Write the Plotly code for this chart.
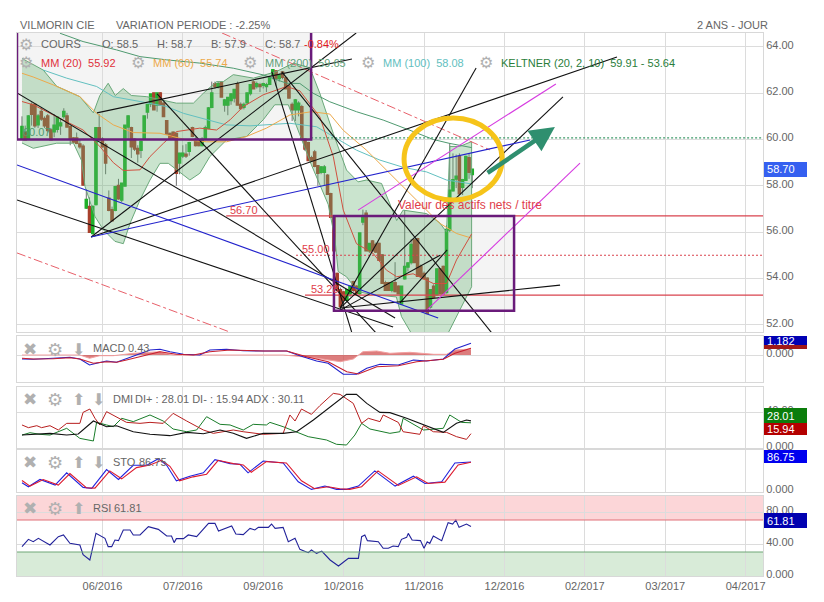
import plotly.graph_objects as go

W, H = 824, 602
L_PX, R_PX = 17, 763

# ---------- x axis (trading sessions) ----------
tick_sessions = [25, 50, 75, 100, 125, 150, 175, 200, 225]
tick_labels = ["06/2016", "07/2016", "09/2016", "10/2016", "11/2016", "12/2016", "02/2017", "03/2017", "04/2017"]
x_range = [-1.55, 230.4]

# ---------- candles ----------
opens = [60.05,60.3,60.05,61.5,61.5,60.65,61.2,60.9,61.0,60.4,60.35,60.45,60.6,61.0,61.0,60.55,60.05,60.05,59.8,59.7,
 57.05,57.1,55.95,57.2,60.5,60.0,59.75,57.45,56.95,56.95,58.0,57.4,58.0,60.55,60.5,60.0,59.6,59.55,60.05,61.2,
 61.55,62.0,61.5,62.0,61.55,60.8,60.25,60.3,60.25,59.0,59.3,59.35,59.5,60.5,60.0,59.9,59.75,60.05,60.5,61.4,
 62.4,62.3,62.45,61.5,61.5,61.7,61.8,62.4,61.5,61.4,61.6,62.0,62.47,62.3,62.35,62.35,62.3,62.4,62.8,62.95,
 62.65,62.9,62.65,62.3,61.5,61.3,61.3,61.4,60.0,59.85,59.2,59.45,58.85,58.6,58.6,58.45,57.65,56.65,54.2,53.5,
 53.4,53.07,53.35,53.85,53.65,53.36,56.45,56.8,55.2,55.6,55.45,55.5,55.0,53.8,53.8,53.5,53.8,53.65,52.9,54.0,
 54.5,54.7,55.65,55.7,54.5,54.2,54.0,52.78,53.65,53.3,54.4,54.5,53.4,56.1,57.8,58.3,59.25,57.95,58.25,59.2,58.5]
highs = [61.0,60.6,61.05,61.6,61.55,61.1,61.4,61.0,61.1,60.5,61.1,60.95,60.9,61.35,61.15,60.6,60.1,60.3,60.0,59.8,
 57.85,57.5,57.15,60.5,61.1,60.1,59.85,57.8,57.1,58.0,58.3,58.1,60.6,61.05,60.55,60.05,59.75,59.95,61.0,61.5,
 61.95,62.0,62.0,62.05,61.6,60.8,60.3,60.35,60.3,59.4,59.75,59.8,59.9,60.55,60.1,60.0,60.1,60.6,61.4,62.5,
 62.5,62.5,62.5,61.75,61.8,62.0,62.15,62.5,61.6,61.6,62.0,62.35,62.55,62.5,62.45,62.45,62.45,62.7,63.0,63.0,
 62.85,62.95,62.75,62.35,61.6,61.75,61.65,61.5,60.05,59.9,59.3,59.55,58.9,58.85,58.9,58.5,57.7,56.7,54.25,53.6,
 53.45,53.55,53.65,53.9,53.7,55.95,56.97,56.95,55.5,55.65,55.55,55.55,55.05,53.9,53.85,53.8,54.7,53.7,53.65,56.95,
 54.7,55.7,55.7,55.75,54.6,54.3,54.05,53.5,53.75,54.4,54.45,54.55,56.3,59.85,59.4,59.35,59.4,58.3,59.3,59.4,58.7]
lows = [60.0,60.0,60.0,60.6,60.5,60.5,60.8,60.5,60.3,60.0,60.1,60.3,60.2,60.9,60.55,59.75,59.85,59.8,59.6,58.0,
 57.0,56.0,55.9,57.15,60.0,59.65,58.5,56.9,56.5,56.9,57.4,57.3,58.0,60.0,59.2,59.5,59.0,59.2,60.0,60.9,
 61.4,61.3,61.2,61.5,61.0,60.25,60.05,60.0,58.0,58.5,59.2,59.2,59.3,60.1,59.7,59.7,59.7,60.0,60.45,61.35,
 62.2,62.2,61.85,61.2,61.05,61.5,61.6,61.5,61.3,61.3,61.5,61.9,62.2,62.2,62.05,62.2,62.05,62.35,62.6,62.3,
 62.5,62.6,62.2,61.8,60.8,60.8,61.0,60.05,59.5,59.1,59.05,58.8,58.0,58.5,58.0,57.65,56.65,55.2,53.45,52.6,
 52.9,53.0,53.2,53.4,53.3,53.3,56.3,55.2,55.1,55.2,55.1,54.8,53.8,53.5,53.5,53.4,53.4,53.35,52.85,53.95,
 54.3,54.6,54.7,54.1,54.05,54.0,52.5,52.7,53.2,53.25,53.35,53.35,53.35,56.0,57.75,57.9,57.6,57.6,58.2,58.3,57.9]
closes = [60.55,60.0,61.0,61.1,60.6,61.0,60.9,60.6,60.4,60.0,60.6,60.95,60.7,61.2,60.55,60.05,59.9,59.85,59.7,58.05,
 57.4,56.0,57.1,60.5,60.0,59.7,59.0,56.95,56.5,57.95,57.45,58.1,60.6,61.0,59.7,59.6,59.4,59.9,61.0,61.5,
 61.95,61.3,62.0,61.5,61.0,60.25,60.05,60.05,58.55,59.4,59.4,59.3,59.85,60.15,59.75,59.75,60.0,60.5,61.35,62.0,
 62.3,62.4,61.85,61.7,61.8,61.95,62.15,61.5,61.35,61.5,62.0,62.35,62.2,62.4,62.3,62.4,62.35,62.65,63.0,62.65,
 62.75,62.7,62.2,61.8,61.3,61.7,61.55,60.05,59.6,59.1,59.1,58.85,58.55,58.8,58.8,57.65,56.65,55.2,53.5,52.8,
 53.07,53.5,53.65,53.5,53.36,55.95,56.67,55.2,55.5,55.2,55.15,54.8,53.8,53.5,53.5,53.8,53.45,53.35,53.65,54.5,
 54.65,55.45,54.7,54.1,54.1,54.0,52.5,53.5,53.2,54.4,53.35,53.35,56.1,57.8,58.25,58.4,57.67,58.25,59.25,58.6,58.7]
sessions = list(range(len(closes)))

# ---------- Keltner bands ----------
kelt_up_x = [0,6.6,10.8,18,22.2,24.2,26.8,29,31.5,34,38.8,44,48,53.3,56.4,60.5,62.6,65.7,72,79,84.4,89.5,92.6,96.8,100.9,104.5,107.1,111.8,113.9,116.5,118.5,125.8,129.9,132,132.5,133,136.1,139.8]
kelt_up_y = [63.5,63.0,62.3,61.85,61.15,61.9,62.43,61.9,62.2,61.9,61.85,61.7,61.57,61.57,62.0,62.5,62.5,62.8,62.65,62.93,63.3,63.1,62.0,60.26,58.68,58.17,58.25,58.1,57.38,56.5,56.95,56.8,56.4,56.0,57.67,59.7,59.7,59.91]
kelt_lo_x = [0,3.5,10.8,16,18.5,19.6,22.7,25.3,28.9,31.5,33.6,36.7,39.8,42.9,45.5,48,52.2,55.3,58.4,63.6,69.8,75,78.6,82.8,84.9,86.4,90,95.2,97.3,98.3,100.9,104.5,110.2,116.4,118,121.6,132,135,139.8]
kelt_lo_y = [59.85,59.62,59.84,59.84,59.1,57.97,56.67,56.1,55.6,55.5,56.38,57.39,58.25,58.97,58.97,58.69,58.25,58.54,59.26,59.98,60.13,60.85,61.5,61.5,60.77,60.2,58.9,57.2,55.73,54.3,54.07,53.42,53.28,53.2,52.35,51.5,51.5,52.35,53.64]

# ---------- moving averages ----------
mm200_x = [11.8,19,29.4,36.7,45,55.3,65.7,75,82.3,86.4,90.5,95.7,104,112.3,120.6,127.9,133,139.8]
mm200_y = [64.59,64.23,63.87,63.58,63.44,63.3,63.08,62.79,62.43,62.42,62.0,61.63,61.2,60.84,60.4,60.0,59.83,59.65]
mm100_x = [6.6,13.9,23.2,28.4,36.7,45,50.2,57.4,63.6,70.9,76,83.3,91.6,98.8,104,111.3,118.5,125.8,132,139.8]
mm100_y = [63.0,62.65,62.29,61.85,61.64,61.42,61.13,60.85,60.63,60.59,60.63,60.7,60.55,59.97,59.54,59.11,58.8,58.6,58.25,58.08]
mm60_x = [0,3.5,9.7,18,23.2,28.4,34.6,42.9,51.2,57.4,63.6,69.8,76,83.3,90,95.7,99.9,107.1,113.3,121.6,129.9,135.1,139.8]
mm60_y = [62.86,62.7,62.36,61.85,61.13,60.63,60.3,60.27,59.98,59.9,59.9,60.13,60.49,61.06,61.2,61.1,60.4,59.54,58.68,57.53,56.38,55.94,55.74]
mm20_x = [0,3.5,8.7,14.9,19,24.2,28.4,31.5,36.7,39.8,44,48,55.3,60.5,64.7,68.8,75,82.3,86.4,92.6,96.8,99.9,104,109.2,113.3,116.5,121.6,127.9,132,135.1,139.8]
mm20_y = [61.64,61.5,61.13,60.7,60.41,59.7,59.0,58.66,58.69,59.26,59.84,60.34,60.49,60.41,60.85,61.42,61.93,62.29,62.1,60.98,59.26,56.95,55.5,55.08,54.36,54.07,54.2,53.78,53.78,54.8,55.92]

# ---------- drawn trend lines: [session, session], [price, price] ----------
black_lines = [
 ([-1.55,116],[62.01,52.29]), ([-1.55,115.4],[57.39,51.9]), ([42,110.7],[61.97,51.55]),
 ([80.8,146.1],[62.92,51.64]), ([77.7,102.6],[62.92,51.64]), ([21.5,103.9],[55.79,64.6]),
 ([21.5,185],[55.79,63.56]), ([23.3,102.6],[61.15,63.48]), ([98.9,168.2],[52.72,61.84]),
 ([98.9,141.2],[52.72,63.09]), ([98.9,130],[52.63,55.0]), ([117.5,132.2],[52.94,55.23]),
 ([98.9,167.3],[52.72,53.71]),
]
blue_lines = [([21.5,158],[55.79,59.98]), ([-1.55,129.4],[58.9,52.29])]
magenta_lines = [([104.5,166],[56.95,62.4]), ([125.3,173.5],[52.55,58.98])]
red_dash_lines = [([62.2,145.5],[64.6,59.55]), ([-1.55,64.7],[55.1,51.68])]
level_values = [56.70, 55.00, 53.28]
level_starts = [63.5, 85.2, 88]
level_dash = ["solid", "2px,2px", "solid"]
dotted_level = 60.07

rect1_x, rect1_y = [-1.55, 89.9], [60.0, 64.7]
rect2_x, rect2_y = [97, 153], [52.6, 56.7]
ellipse_x, ellipse_y = [118.8, 149.3], [57.39, 60.93]
arrow_from, arrow_to = (144.3, 58.51), (165.7, 60.54)

# ---------- MACD ----------
macd_x = [0,3.5,9.7,14.9,18,21,23.2,26.3,29.4,32.5,35.6,39.8,42.9,46,50.2,55.3,58.4,63.6,68.8,75,82.3,86.4,91.6,95.2,99.9,104,107.2,111.3,117,121.7,125.8,131,134.6,139.6]
macd_y = [-.4,-.43,-.33,-.23,-.4,-1,-.83,-.6,-.73,-.33,0,.5,.57,.33,.07,0,.5,.57,.43,.4,.4,-.07,-.6,-.83,-1.93,-1.93,-1.33,-.93,-1,-.5,-.6,-.4,.6,1.18]
sig_x = [0,3.5,9.7,14.9,18,22.2,26.3,29.4,32.5,36.7,42.9,48,53.3,58.4,64.7,75,82.3,88.5,95.2,101,104.6,110.3,117,122.7,131,134.6,139.6]
sig_y = [-.33,-.4,-.37,-.27,-.4,-.83,-.67,-.73,-.5,-.17,.33,.07,0,.33,.5,.4,.4,-.17,-.67,-1.67,-1.9,-1.17,-1.07,-.67,-.43,.17,.67]
hist_x = [0,18,21,24.2,28.4,34.6,42.9,47,57.4,65.7,81.2,90.6,99,103,106,110.3,114.4,120.6,128,132,134.6,139.6]
hist_y = [0,0,-.33,-.07,-.07,.17,.33,0,0,0,0,-.27,-.67,-.4,.33,.4,.17,.27,.07,.07,.5,.6]

# ---------- DMI ----------
dip_x = [0,2.5,5.6,8.7,13.9,18,22.2,23.2,26.3,28.4,31,34.6,39.8,43.9,47,51.2,54.3,57.4,61.6,64.7,68.8,71.9,76,77.1,81.2,84.9,89,94.7,97.8,100.9,103.5,105.6,108.2,114.4,117.5,118.5,124.8,131,133,136.7,139.6]
dip_y = [14.4,17,15.2,14.4,21.9,10.7,7.8,28.5,25.6,23.7,33,29.3,36.7,30,21.1,18.1,20,34.8,26.3,25.6,20,26.3,25.6,28.5,23.7,18.1,12.6,8.9,4.1,3.3,14.4,27.4,21.1,16.3,18.1,33,20,21.9,36.7,28.5,28.01]
dim_x = [0,2,4.6,6.1,8.7,11.3,13.9,18,19,21.1,22.7,24.2,26.3,29.4,32.5,36.7,39.8,43.9,47,51.2,56.4,59.5,65.7,68.8,75,81.2,83.3,84.9,86.9,90,92.6,96.8,98.9,103,105.6,107.7,111.3,112.3,117,118.5,123.7,124.8,127.9,132,135.1,138.2,139.6]
dim_y = [25.6,22.6,24.8,22.6,24.8,20,27.4,27.4,39.6,43.3,33,25.6,40.4,34.8,28.5,27.4,28.5,27.4,38.5,30,20,16.3,20,18.1,15.2,16.3,36.7,30,43.3,37.4,47,60.7,59.6,49.6,27.4,33,29.3,36.7,28.5,18.1,15.2,24.8,18.1,17.4,12.6,9.6,15.94]
adx_x = [0,8.7,13.9,17.5,22.2,26.3,29.4,34.6,39.8,46,51.2,56.4,61.6,65.7,69.8,75,81.2,85.4,90.6,95.8,100.9,104,107.2,111.3,114.4,119.6,124.8,131,135.1,138.2,139.6]
adx_y = [14.4,16.3,14.4,15.6,30,23.7,24.8,18.1,15.2,13.7,17.4,15.9,20,16.3,10.7,16.3,16.3,18.1,31.1,45.9,59.6,59.6,49.6,39.6,39.3,33,25.6,17.4,27.4,31.1,30.11]

# ---------- Stochastic ----------
stok_x = [0,2,5.6,10.3,13.9,19,21.7,26.3,30,34.6,38.8,42.4,45,48,52.2,56.4,60,64.7,67.8,70.3,75,81.2,85.9,90,94.2,97.8,100.9,104.6,109.7,116,121.7,125.3,130.5,134.6,139.6]
stok_y = [24,12,34,17,54,10,7,64,34,77,77,97,77,30,44,54,94,82,80,54,90,84,27,4,14,4,4,14,60,14,44,22,27,84,86.75]
stod_x = [0,2.5,6.6,11.3,14.9,20,22.7,27.3,31,35.6,39.8,43.4,46,49,53.2,57.4,61,65.7,68.8,71.3,76,82.2,86.9,91,95.2,98.8,101.9,105.6,110.7,117,122.7,126.3,131.5,135.6,139.6]
stod_y = [31,14,34,17,52,9,8,60,36,70,78,92,74,30,42,50,92,82,78,56,88,84,30,6,12,6,4,12,60,16,42,22,26,78,86]

# ---------- RSI ----------
rsi_x = [0,2,3.5,5.1,8.7,11.3,12.9,14.9,18,19,21.1,23,25.8,26.8,27.9,28.9,30,31.5,33.6,34.6,36.7,39.3,42.4,45,46.5,47.3,48,50.2,51.7,54.3,58,60,61.1,65.2,66.5,68.8,70.9,72.4,73.5,76.6,77.6,78.7,81.2,82.8,84.9,86.4,89,90,91.6,93.2,95.8,98.4,101.5,104.6,105.6,106.6,107.4,110.8,112.3,113.9,115.4,117,118,119.6,120.1,121.3,123.9,125,126,126.8,127.9,130.5,132.5,133.9,134.9,135.9,138.2,139.6]
rsi_y = [36.7,45.8,42.9,47.1,38.8,49.2,51.3,40.8,38.8,26.7,20,53.3,47.1,36.7,36.7,45,44.2,57.5,57.5,51.3,51.3,61.7,58.3,50,50,41.7,46.7,46.7,51.3,49.2,65.8,65.8,56.2,62.5,52.5,51.7,59.5,57.5,60.8,60.8,65,59.5,60.8,42.9,47.1,33.3,29.2,32.5,28.3,31.2,20,12.5,22,22,49.2,51.3,44.2,42.9,34.6,34.6,37.5,36.7,45.8,48.3,53.3,45,44.2,34.6,42.9,40.8,50,44.2,66.7,65,70,60.8,65,61.81]

# ---------- axis ticks ----------
price_ticks = [52, 54, 56, 58, 60, 62, 64]
macd_ticks, dmi_ticks, sto_ticks, rsi_ticks = [0], [0, 40], [0], [0, 40, 80]

GRID = "#dcdcdc"
FRAME = "#d8d8d8"
TXT = "#666666"
FONT = "Liberation Sans, Arial, sans-serif"
SYM = "DejaVu Sans"
PURPLE = "#6a1b7a"
CUP, CDN = "#1fb02a", "#a8402c"

def px(x): return x / W
def py(y): return 1 - y / H

fig = go.Figure()

panels = [  # top px, bottom px, y range, ticks
    (33, 332, [51.685, 64.6], price_ticks),
    (336, 382, [-2.7, 1.9], macd_ticks),
    (387, 448, [0, 67.8], dmi_ticks),
    (450, 491.7, [-3, 123.3], sto_ticks),
    (496, 576, [0, 100], rsi_ticks),
]
layout = {}
for k, (top, bot, rng, ticks) in enumerate(panels, start=1):
    s = "" if k == 1 else str(k)
    layout["xaxis" + s] = dict(
        domain=[px(L_PX), px(R_PX)], range=x_range, anchor="y" + s,
        tickvals=tick_sessions, ticktext=tick_labels if k == 5 else None,
        showticklabels=k == 5, showgrid=True, gridcolor=GRID, gridwidth=1,
        zeroline=False, showline=True, linecolor=FRAME, mirror=True, ticks="",
        rangeslider=dict(visible=False), tickfont=dict(family=FONT, size=11, color=TXT),
        automargin=False,
    )
    layout["yaxis" + s] = dict(
        domain=[py(bot), py(top)], range=rng, anchor="x" + s, side="right",
        tickvals=ticks, ticktext=[f"{t:.2f}" if k != 2 and not (k in (3, 4, 5) and t == 0) else "0.000" for t in ticks],
        showgrid=True, gridcolor=GRID, gridwidth=1, zeroline=False, showline=True,
        linecolor=FRAME, mirror=True, ticks="", ticklabelshift=-2, automargin=False,
        tickfont=dict(family=FONT, size=11, color=TXT),
    )

def line(x, y, color, width=1, dash="solid", ax=1, fill=None, fillcolor=None):
    s = "" if ax == 1 else str(ax)
    fig.add_trace(go.Scatter(x=x, y=y, mode="lines", xaxis="x" + s, yaxis="y" + s, hoverinfo="skip",
                             line=dict(color=color, width=width, dash=dash), fill=fill, fillcolor=fillcolor,
                             showlegend=False))

# Keltner band
line(kelt_up_x + kelt_lo_x[::-1], kelt_up_y + kelt_lo_y[::-1], "#6aa87a", 1, fill="toself", fillcolor="rgba(100,175,110,0.34)")
line(mm200_x, mm200_y, "#4f9a70", 1)
line(mm100_x, mm100_y, "#62c0c0", 1)
line(mm60_x, mm60_y, "#eda94a", 1)
line(mm20_x, mm20_y, "#d0503f", 1)

# candles: wicks first, then bodies
fig.add_trace(go.Candlestick(x=sessions, open=opens, high=highs, low=lows, close=closes, whiskerwidth=0,
                             increasing=dict(line=dict(color="#707070", width=1), fillcolor="rgba(0,0,0,0)"),
                             decreasing=dict(line=dict(color="#707070", width=1), fillcolor="rgba(0,0,0,0)"),
                             hoverinfo="skip", showlegend=False))
fig.add_trace(go.Candlestick(x=sessions, open=opens, close=closes,
                             high=[max(a, b) for a, b in zip(opens, closes)],
                             low=[min(a, b) for a, b in zip(opens, closes)], whiskerwidth=0,
                             increasing=dict(line=dict(color=CUP, width=2), fillcolor=CUP),
                             decreasing=dict(line=dict(color=CDN, width=2), fillcolor=CDN),
                             hoverinfo="skip", showlegend=False))

# levels
for v, st, d in zip(level_values, level_starts, level_dash):
    line([st, x_range[1]], [v, v], "#d9434e", 1.2, dash=d)
line([rect1_x[1], x_range[1]], [dotted_level, dotted_level], "#3f9a6a", 1.2, dash="2px,2px")

# drawn lines
for xs, ys in red_dash_lines:
    line(xs, ys, "#e8606a", 1, dash="dashdot")
for xs, ys in black_lines:
    line(xs, ys, "#111111", 1.1)
for xs, ys in blue_lines:
    line(xs, ys, "#2222cc", 1.1)
for xs, ys in magenta_lines:
    line(xs, ys, "#d63be0", 1.1)

# MACD
line(hist_x, hist_y, "#f2a0a0", 1, ax=2, fill="tozeroy", fillcolor="rgba(205,70,70,0.7)")
line(macd_x, macd_y, "#2222cc", 1.1, ax=2)
line(sig_x, sig_y, "#c81e2e", 1.1, ax=2)
# DMI
line(dip_x, dip_y, "#1a7d2a", 1, ax=3)
line(dim_x, dim_y, "#b81e1e", 1, ax=3)
line(adx_x, adx_y, "#111111", 1.1, ax=3)
# STO
line(stok_x, stok_y, "#2222dd", 1.1, ax=4)
line(stod_x, stod_y, "#dd1a2e", 1.1, ax=4)
# RSI
line(rsi_x, rsi_y, "#22229a", 1.1, ax=5)

shapes = [
    dict(type="rect", xref="x", yref="y", x0=rect1_x[0], x1=rect1_x[1], y0=rect1_y[0], y1=rect1_y[1],
         fillcolor="rgba(150,150,150,0.10)", line=dict(width=0), layer="below"),
    dict(type="rect", xref="x", yref="y", x0=rect2_x[0], x1=rect2_x[1], y0=rect2_y[0], y1=rect2_y[1],
         fillcolor="rgba(150,150,150,0.10)", line=dict(width=0), layer="below"),
    dict(type="rect", xref="x", yref="y", x0=rect1_x[0], x1=rect1_x[1], y0=rect1_y[0], y1=rect1_y[1],
         line=dict(color=PURPLE, width=2.5)),
    dict(type="rect", xref="x", yref="y", x0=rect2_x[0], x1=rect2_x[1], y0=rect2_y[0], y1=rect2_y[1],
         line=dict(color=PURPLE, width=2.5)),
    dict(type="circle", xref="x", yref="y", x0=ellipse_x[0], x1=ellipse_x[1], y0=ellipse_y[0], y1=ellipse_y[1],
         line=dict(color="#f6c41a", width=5)),
    dict(type="rect", xref="x5 domain", yref="y5", x0=0, x1=1, y0=70, y1=100,
         fillcolor="rgba(245,120,125,0.30)", line=dict(width=0), layer="below"),
    dict(type="rect", xref="x5 domain", yref="y5", x0=0, x1=1, y0=0, y1=30,
         fillcolor="rgba(90,170,90,0.24)", line=dict(width=0), layer="below"),
    dict(type="line", xref="x5 domain", yref="y5", x0=0, x1=1, y0=70, y1=70, line=dict(color="#e07078", width=1)),
    dict(type="line", xref="x5 domain", yref="y5", x0=0, x1=1, y0=30, y1=30, line=dict(color="#6fa776", width=1)),
]

ann = []
def text(x, y, t, color=TXT, size=11, anchor="left", family=FONT, opacity=1):
    ann.append(dict(xref="paper", yref="paper", x=px(x), y=py(y), text=t, showarrow=False, xanchor=anchor,
                    yanchor="middle", align=anchor, opacity=opacity, font=dict(family=family, size=size, color=color)))

def box(y0, y1, t, bg):
    ann.append(dict(xref="paper", yref="paper", x=px(764), y=py((y0 + y1) / 2), text="\u00a0" + t if t else t,
                    showarrow=False, xanchor="left",
                    yanchor="middle", width=43, height=y1 - y0, bgcolor=bg, align="left", borderpad=0, borderwidth=0,
                    font=dict(family=FONT, size=11, color="white")))

text(18, 25, "VILMORIN CIE")
text(114, 25, "VARIATION PERIODE : -2.25%")
text(695, 25, "2 ANS - JOUR")

ICON = "#b0b0b0"
for gx, gy in [(26, 44), (26, 63), (138, 63), (250, 63), (368, 63), (486, 63)]:
    text(gx, gy, "⚙", ICON, 16, "center", SYM)
text(39, 44, "COURS")
text(100, 44, "O: 58.5")
text(155, 44, "H: 58.7")
text(209, 44, "B: 57.9")
text(263, 44, "C: 58.7")
text(302, 44, "-0.84%", "#e01b24")
text(39, 63, "MM (20)  55.92", "#e0303a")
text(151, 63, "MM (60)  55.74", "#eda94a")
text(263, 63, "MM (200)  59.65", "#5f9f78")
text(381, 63, "MM (100)  58.08", "#62c0c0")
text(499, 63, "KELTNER (20, 2, 10)  59.91 - 53.64", "#2a7d3a")
text(21, 132, "60.07", "#4f9a70", 11)
text(396, 205, "Valeur des actifs nets / titre", "#e0404a", 12)
text(228, 210, "56.70", "#e0404a")
text(300, 249, "55.00", "#e0404a")
text(309, 289, "53.28", "#e0404a")

def controls(y, up, down):
    text(30, y, "✖", ICON, 17, "center", SYM)
    text(55, y, "⚙", ICON, 18, "center", SYM)
    nx = 78
    if up:
        text(nx, y, "⬆", ICON, 16, "center", SYM); nx += 20
    if down:
        text(nx, y, "⬇", ICON, 16, "center", SYM)

controls(349, False, True)
text(91, 348, "MACD")
text(126, 348, "0.43")
controls(399, True, True)
text(111, 399, "DMI")
text(133, 399, "DI+ : 28.01 DI- : 15.94 ADX : 30.11")
controls(462, True, True)
text(111, 462, "STO")
text(137, 462, "86.75")
controls(508, True, False)
text(91, 508, "RSI")
text(112, 508, "61.81")

box(162, 176.5, "58.70", "#3560f0")
box(345, 349, "", "#a01818")
box(336, 345, "1.182", "#0000b4")
box(408, 423, "28.01", "#0b7d0b")
box(423, 435, "15.94", "#b40000")
box(450, 463, "86.75", "#0000ee")
box(513, 528, "61.81", "#0000b0")

ann.append(dict(x=arrow_to[0], y=arrow_to[1], ax=arrow_from[0], ay=arrow_from[1], xref="x", yref="y", axref="x", ayref="y",
                text="", showarrow=True, arrowhead=2, arrowsize=1.1, arrowwidth=4.5, arrowcolor="#2f8f6f"))

fig.update_layout(width=W, height=H, autosize=False, margin=dict(l=0, r=0, t=0, b=0, pad=0, autoexpand=False),
                  paper_bgcolor="white", plot_bgcolor="white",
                  showlegend=False, shapes=shapes, annotations=ann, **layout)
fig.write_html("out.html", config=dict(displayModeBar=False),
               post_script="document.body.style.margin='0';document.body.style.overflow='hidden';")
